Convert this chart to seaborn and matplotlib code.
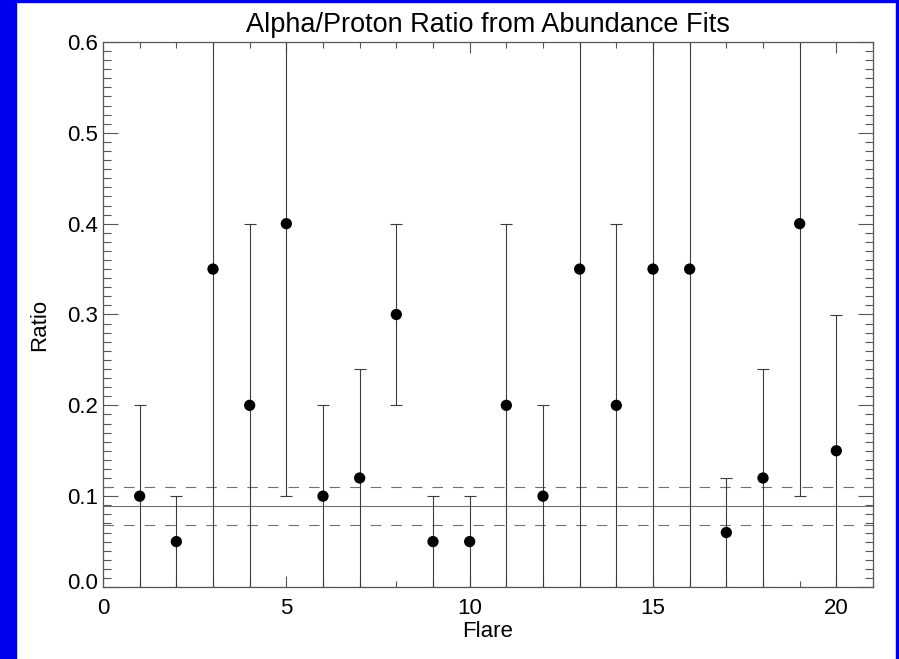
import matplotlib
matplotlib.use("Agg")
import matplotlib.pyplot as plt
import matplotlib.patches as mpatches
from matplotlib.ticker import MultipleLocator, FormatStrFormatter
from matplotlib.transforms import ScaledTranslation
import numpy as np
import pandas as pd
import seaborn as sns

# ---- data ----
flare = [1, 2, 3, 4, 5, 6, 7, 8, 9, 10, 11, 12, 13, 14, 15, 16, 17, 18, 19, 20]
ratio = [0.10, 0.05, 0.35, 0.20, 0.40, 0.10, 0.12, 0.30, 0.05, 0.05,
         0.20, 0.10, 0.35, 0.20, 0.35, 0.35, 0.06, 0.12, 0.40, 0.15]
upper = [0.20, 0.10, 0.70, 0.40, 0.70, 0.20, 0.24, 0.40, 0.10, 0.10,
         0.40, 0.20, 0.70, 0.40, 0.70, 0.70, 0.12, 0.24, 0.70, 0.30]
lower = [0.00, 0.00, 0.00, 0.00, 0.10, 0.00, 0.00, 0.20, 0.00, 0.00,
         0.00, 0.00, 0.00, 0.00, 0.00, 0.00, 0.00, 0.00, 0.10, 0.00]
mean_ratio = 0.089
band_low = 0.068
band_high = 0.110
title = "Alpha/Proton Ratio from Abundance Fits"
xlabel = "Flare"
ylabel = "Ratio"

df = pd.DataFrame({"flare": flare, "ratio": ratio, "upper": upper, "lower": lower})

sns.set_theme(style="white")
plt.rcParams["font.family"] = ["Liberation Sans", "DejaVu Sans"]
plt.rcParams["lines.scale_dashes"] = False

W, H = 899, 659
fig = plt.figure(figsize=(W / 100, H / 100), dpi=100, facecolor="white")
ax = fig.add_axes([103 / W, (H - 587) / H, (873 - 103) / W, (587 - 42) / H])
ax.set_facecolor("white")

# blue frame
blue = "#0000f0"
fig.patches.append(mpatches.Rectangle((0, 0), 16 / W, 1, transform=fig.transFigure,
                                      color=blue, zorder=-1))
fig.patches.append(mpatches.Rectangle((0, 1 - 2 / H), 1, 2 / H, transform=fig.transFigure,
                                      color=blue, zorder=-1))
fig.patches.append(mpatches.Rectangle((1 - 3 / W, 0), 3 / W, 1, transform=fig.transFigure,
                                      color=blue, zorder=-1))

# error bars
yerr = np.array([df["ratio"] - df["lower"], df["upper"] - df["ratio"]])
ax.errorbar(df["flare"], df["ratio"], yerr=yerr, fmt="none", ecolor="#3c3c3c",
            elinewidth=0.8, capsize=4, capthick=0.8, zorder=2)

# reference lines
ax.axhline(mean_ratio, color="#707070", lw=0.8, zorder=1)
ax.axhline(band_high, color="#707070", lw=0.8, ls=(0, (7.6, 7.2)), zorder=1)
ax.axhline(band_low, color="#707070", lw=0.8, ls=(0, (7.6, 7.2)), zorder=1)

# points
sns.scatterplot(data=df, x="flare", y="ratio", ax=ax, color="black", s=66,
                edgecolor="none", zorder=3, legend=False)

ax.set_xlim(0, 21)
ax.set_ylim(0, 0.6)
ax.xaxis.set_major_locator(MultipleLocator(5))
ax.xaxis.set_minor_locator(MultipleLocator(1))
ax.yaxis.set_major_locator(MultipleLocator(0.1))
ax.yaxis.set_minor_locator(MultipleLocator(0.01))
ax.yaxis.set_major_formatter(FormatStrFormatter("%.1f"))

for s in ax.spines.values():
    s.set_color("#555555")
    s.set_linewidth(0.9)

ax.tick_params(which="both", direction="in", top=True, right=True, bottom=True, left=True,
               color="#555555", width=0.8, labelcolor="black", labelsize=16)
ax.tick_params(axis="x", which="major", length=7.6, pad=8)
ax.tick_params(axis="x", which="minor", length=4)
ax.tick_params(axis="y", which="major", length=10.8, pad=3.6)
ax.tick_params(axis="y", which="minor", length=5.8)

ax.set_title(title, fontsize=19.5, pad=7, color="black")
ax.set_xlabel(xlabel, fontsize=16, color="black")
ax.set_ylabel(ylabel, fontsize=16, color="black")
ax.xaxis.set_label_coords(0.5, -0.062)
ax.yaxis.set_label_coords(-0.069, 0.48)

# the bottom y label sits slightly above its tick in the reference
fig.canvas.draw()
for t in ax.yaxis.get_major_ticks():
    if t.label1.get_text() == "0.0":
        t.label1.set_transform(t.label1.get_transform()
                               + ScaledTranslation(0, 6 / 100, fig.dpi_scale_trans))

fig.savefig("out.png", dpi=100, facecolor="white")
